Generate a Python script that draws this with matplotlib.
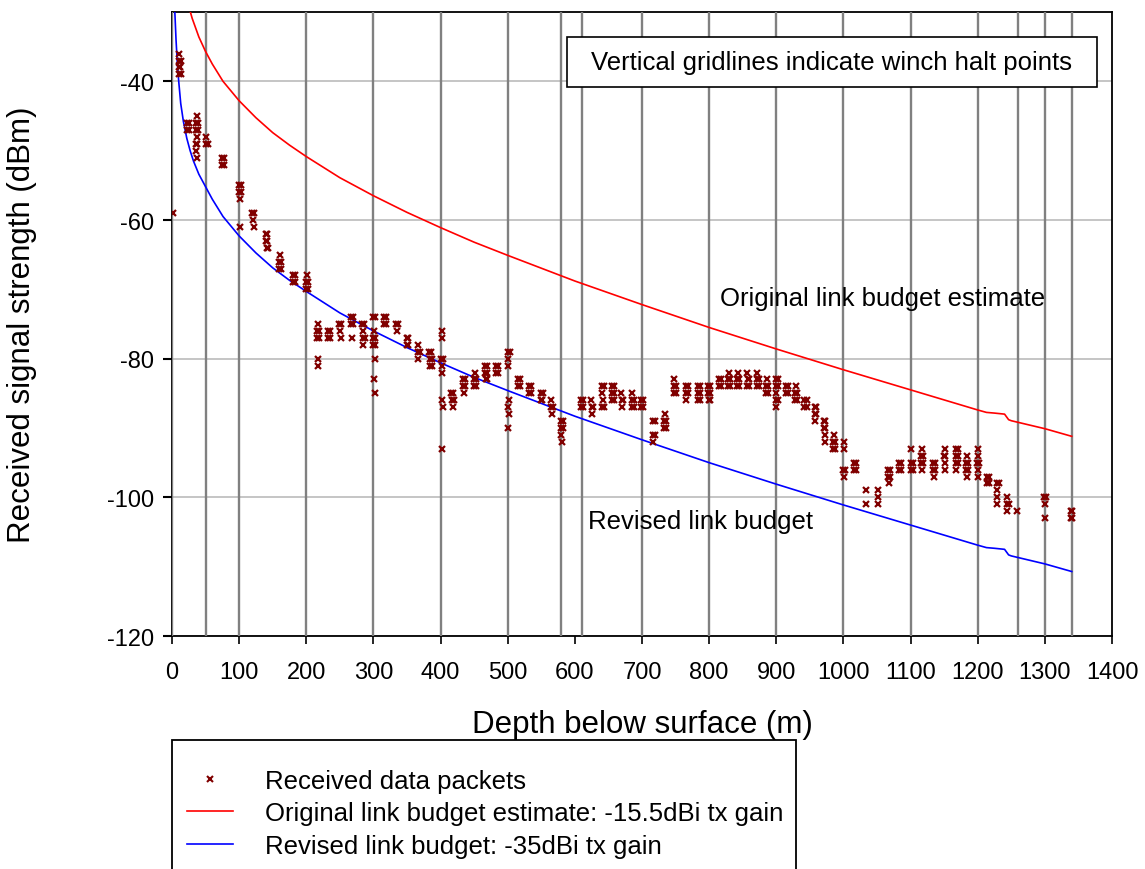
import matplotlib
matplotlib.use('Agg')
import matplotlib.pyplot as plt
from matplotlib.lines import Line2D
from matplotlib.patches import Rectangle

plt.rcParams['font.family'] = ['Liberation Sans', 'DejaVu Sans']
plt.rcParams['axes.unicode_minus'] = False

# depths (m) where the winch was halted
halt_depth = [0, 50, 100, 200, 300, 400, 500, 580, 610, 700, 800, 900,
              1000, 1100, 1200, 1260, 1300, 1340]

# original link budget estimate (-15.5 dBi tx gain)
orig_depth = [25, 30, 40, 50, 60, 76, 100, 125, 150, 175, 200, 250, 300,
              350, 400, 450, 500, 600, 700, 800, 900, 1000, 1100, 1200,
              1213, 1225, 1240, 1246, 1250, 1300, 1340]
orig_rssi = [-29.2, -30.9, -33.6, -35.7, -37.5, -40.0, -42.8, -45.25,
             -47.4, -49.2, -50.85, -53.9, -56.5, -58.9, -61.1, -63.2, -65.1,
             -68.8, -72.2, -75.5, -78.6, -81.6, -84.5, -87.4, -87.75,
             -87.85, -88.0, -88.8, -88.95, -90.1, -91.2]

# revised link budget (-35 dBi tx gain)
rev_depth = [4, 6, 8, 10, 13, 17, 22, 27, 32, 40, 50, 60, 76, 100, 125,
             150, 175, 200, 250, 300, 350, 400, 450, 500, 600, 700, 800,
             900, 1000, 1100, 1200, 1213, 1225, 1240, 1246, 1250, 1300, 1340]
rev_rssi = [-29.5, -34.0, -37.5, -40.0, -43.2, -45.8, -48.2, -50.0, -51.5,
            -53.4, -55.2, -57.0, -59.5, -62.3, -64.75, -66.9, -68.7, -70.3,
            -73.4, -76.0, -78.4, -80.6, -82.7, -84.6, -88.3, -91.7, -95.0,
            -98.1, -101.1, -104.0, -106.9, -107.25, -107.35, -107.5, -108.3,
            -108.45, -109.6, -110.7]

# received packets: depth (m) and signal strength (dBm)
packet_depth = [
    1,
    10, 11, 13, 10, 12, 11, 13,
    22, 25, 22, 25,
    37, 36, 38, 36, 38, 37, 36, 37, 36, 37,
    51, 50, 53,
    74, 77, 74, 77,
    100, 103, 100, 103, 102, 102,
    119, 122, 120, 122,
    140, 142, 140, 142, 141, 143,
    161, 160, 162, 160, 162,
    180, 183, 180, 183,
    201, 200, 202, 200, 202,
    217, 216, 219, 216, 219, 217, 217,
    232, 235, 232, 235,
    249, 252, 250, 251,
    266, 269, 266, 269, 268,
    283, 286, 285, 284, 287, 285,
    300, 302, 301, 300, 302, 300, 302, 302, 301, 302,
    316, 319, 316, 319,
    334, 337, 335,
    350, 352, 350, 352,
    367, 366, 369, 367,
    383, 386, 384, 387, 384, 387,
    402, 402, 401, 403, 402, 402, 402, 403, 402,
    416, 419, 417, 420, 418,
    433, 436, 433, 436, 435,
    452, 450, 453, 450, 453,
    466, 469, 466, 469, 467, 469,
    483, 486, 483, 486,
    501, 503, 501, 501, 502, 501, 502, 501,
    516, 519, 516, 519,
    532, 535, 532, 535,
    549, 552, 549, 551,
    564, 565, 567, 566,
    579, 582, 580, 582, 580, 581,
    609, 612, 609, 612,
    624, 625, 627, 626,
    640, 643, 641, 642, 640, 643,
    655, 658, 655, 658, 656, 658,
    669, 670, 672, 670,
    685, 685, 688, 685, 688,
    699, 702, 699, 702,
    716, 719, 716, 719, 717,
    734, 733, 735, 733, 735,
    748, 748, 751, 748, 751,
    765, 768, 766, 768, 766,
    783, 786, 783, 786, 784, 786,
    799, 802, 799, 802, 800, 802,
    814, 817, 814, 817,
    829, 828, 831, 828, 831,
    843, 842, 845, 842, 845,
    857, 858, 860, 857, 860,
    872, 871, 874, 871, 874,
    886, 885, 888, 885, 888,
    899, 902, 899, 902, 900, 899, 902, 900,
    914, 917, 914, 917,
    929, 928, 931, 928, 931,
    942, 945, 942, 945,
    957, 959, 957, 959, 958,
    971, 973, 971, 973, 972, 972,
    986, 985, 988, 985, 988,
    1001, 1001, 1000, 1002, 1001,
    1016, 1019, 1016, 1019,
    1033, 1033,
    1052, 1052, 1052,
    1067, 1070, 1067, 1070, 1068,
    1083, 1086, 1083, 1086,
    1101, 1100, 1103, 1100, 1103,
    1117, 1116, 1119, 1116, 1119, 1117,
    1134, 1137, 1134, 1137, 1135,
    1151, 1150, 1152, 1151, 1151,
    1167, 1170, 1167, 1170, 1167, 1170, 1168,
    1184, 1183, 1186, 1183, 1186, 1184,
    1200, 1200, 1199, 1202, 1200, 1200,
    1214, 1217, 1214, 1217,
    1228, 1231, 1229, 1229, 1229,
    1244, 1243, 1246, 1244,
    1258,
    1299, 1301, 1300, 1300,
    1339, 1341, 1339, 1341,
]
packet_rssi = [
    -59,
    -36, -37, -37, -38, -38, -39, -39,
    -46, -46, -47, -47,
    -45, -46, -46, -47, -47, -48, -49, -49, -50, -51,
    -48, -49, -49,
    -51, -51, -52, -52,
    -55, -55, -56, -56, -57, -61,
    -59, -59, -60, -61,
    -62, -62, -63, -63, -64, -64,
    -65, -66, -66, -67, -67,
    -68, -68, -69, -69,
    -68, -69, -69, -70, -70,
    -75, -76, -76, -77, -77, -80, -81,
    -76, -76, -77, -77,
    -75, -75, -76, -77,
    -74, -74, -75, -75, -77,
    -75, -75, -76, -77, -77, -78,
    -74, -74, -76, -77, -77, -78, -78, -80, -83, -85,
    -74, -74, -75, -75,
    -75, -75, -76,
    -77, -77, -78, -78,
    -78, -79, -79, -80,
    -79, -79, -80, -80, -81, -81,
    -76, -77, -80, -80, -81, -82, -86, -87, -93,
    -85, -85, -86, -86, -87,
    -83, -83, -84, -84, -85,
    -82, -83, -83, -84, -84,
    -81, -81, -82, -82, -83, -83,
    -81, -81, -82, -82,
    -79, -79, -80, -81, -86, -87, -88, -90,
    -83, -83, -84, -84,
    -84, -84, -85, -85,
    -85, -85, -86, -86,
    -86, -87, -87, -88,
    -89, -89, -90, -90, -91, -92,
    -86, -86, -87, -87,
    -86, -87, -87, -88,
    -84, -84, -85, -86, -87, -87,
    -84, -84, -85, -85, -86, -86,
    -85, -86, -86, -87,
    -85, -86, -86, -87, -87,
    -86, -86, -87, -87,
    -89, -89, -91, -91, -92,
    -88, -89, -89, -90, -90,
    -83, -84, -84, -85, -85,
    -84, -84, -85, -85, -86,
    -84, -84, -85, -85, -86, -86,
    -84, -84, -85, -85, -86, -86,
    -83, -83, -84, -84,
    -82, -83, -83, -84, -84,
    -82, -83, -83, -84, -84,
    -82, -83, -83, -84, -84,
    -82, -83, -83, -84, -84,
    -83, -84, -84, -85, -85,
    -83, -83, -84, -84, -85, -86, -86, -87,
    -84, -84, -85, -85,
    -84, -85, -85, -86, -86,
    -86, -86, -87, -87,
    -87, -87, -88, -88, -89,
    -89, -89, -90, -90, -91, -92,
    -91, -92, -92, -93, -93,
    -92, -93, -96, -96, -97,
    -95, -95, -96, -96,
    -99, -101,
    -99, -100, -101,
    -96, -96, -97, -97, -98,
    -95, -95, -96, -96,
    -93, -95, -95, -96, -96,
    -93, -94, -94, -95, -95, -96,
    -95, -95, -96, -96, -97,
    -93, -94, -94, -95, -96,
    -93, -93, -94, -94, -95, -95, -96,
    -94, -95, -95, -96, -96, -97,
    -93, -94, -95, -95, -96, -97,
    -97, -97, -98, -98,
    -98, -98, -99, -100, -101,
    -100, -101, -101, -102,
    -102,
    -100, -100, -101, -103,
    -102, -102, -103, -103,
]

W, H = 1145, 870
fig = plt.figure(figsize=(W / 100, H / 100), dpi=100)
ax = fig.add_axes([172 / W, 1 - 637 / H, 940 / W, 624 / H])

# horizontal gridlines and winch halt markers
ax.yaxis.grid(True, color='#c0c0c0', lw=1.3, zorder=0)
ax.set_axisbelow(True)
for d in halt_depth:
    ax.axvline(d, color='#808080', lw=1.7, zorder=2.6)

ax.plot(orig_depth, orig_rssi, color='#ff0000', lw=1.2, zorder=3)
ax.plot(rev_depth, rev_rssi, color='#0000ff', lw=1.2, zorder=3)
ax.plot(packet_depth, packet_rssi, ls='none', marker='x', ms=4.3,
        mew=1.6, color='#800000', zorder=4)

ax.set_xlim(0, 1400)
ax.set_ylim(-120, -30)
ax.set_xticks(range(0, 1401, 100))
ax.set_yticks([-120, -100, -80, -60, -40])
ax.tick_params(axis='x', direction='out', length=6, width=1.2, pad=12,
               labelsize=17)
ax.tick_params(axis='y', direction='out', length=6.5, width=1.5, pad=6.5,
               labelsize=17)
for s in ax.spines.values():
    s.set_linewidth(1.3)
    s.set_color('black')

ax.set_xlabel('Depth below surface (m)', fontsize=22.5, labelpad=19)
ax.set_ylabel('Received signal strength (dBm)', fontsize=22.5, labelpad=50)

ax.text(816, -71.2, 'Original link budget estimate', fontsize=18.5,
        ha='left', va='center', zorder=5)
ax.text(620, -103.4, 'Revised link budget', fontsize=18.5,
        ha='left', va='center', zorder=5)

# note box in upper right
ax.add_patch(Rectangle((0.420, 0.880), 0.564, 0.080, transform=ax.transAxes,
                       facecolor='white', edgecolor='black', lw=1.2,
                       zorder=5))
ax.text(0.702, 0.920, 'Vertical gridlines indicate winch halt points',
        transform=ax.transAxes, fontsize=18.5, ha='center', va='center',
        zorder=6)

# legend below the axes, frame runs off the bottom edge
fig.patches.append(Rectangle((172 / W, -0.05), 624 / W, 1 - 741 / H + 0.05,
                             transform=fig.transFigure, fill=False,
                             edgecolor='black', lw=1.3))
handles = [
    Line2D([], [], ls='none', marker='x', ms=4, mew=1.5, color='#800000'),
    Line2D([], [], color='#ff0000', lw=1.2),
    Line2D([], [], color='#0000ff', lw=1.2),
]
labels = ['Received data packets',
          'Original link budget estimate: -15.5dBi tx gain',
          'Revised link budget: -35dBi tx gain']
fig.legend(handles, labels, loc='upper left',
           bbox_to_anchor=(187 / W, 1 - 770 / H), frameon=False,
           borderpad=0, borderaxespad=0, handlelength=1.8,
           handletextpad=1.25, labelspacing=0.33, fontsize=18.5)

fig.savefig('out.png', dpi=100)
